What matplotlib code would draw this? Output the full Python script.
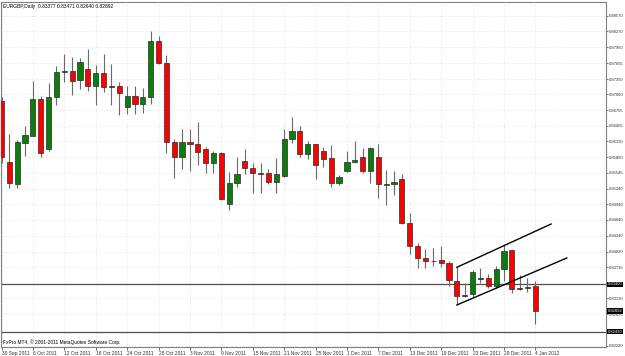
import matplotlib
matplotlib.use("Agg")
import matplotlib.pyplot as plt

# EURGBP daily bars, 30 Sep 2011 .. 4 Jan 2012
opens = [0.86934, 0.85761, 0.85338, 0.86126, 0.86261, 0.86967, 0.86000, 0.87012, 0.87496, 0.87512,
         0.87333, 0.87539, 0.87217, 0.87462, 0.87194, 0.87217, 0.86808, 0.87019, 0.86865, 0.87012,
         0.88089, 0.87666, 0.86140, 0.85857, 0.86134, 0.86107, 0.86000, 0.85730, 0.85923, 0.84947,
         0.85345, 0.85780, 0.85640, 0.85536, 0.85538, 0.85376, 0.85486, 0.86192, 0.86346, 0.85909,
         0.86101, 0.85967, 0.85826, 0.85345, 0.85576, 0.85749, 0.85846, 0.85588, 0.85857, 0.85322,
         0.85326, 0.85428, 0.84587, 0.84145, 0.83902, 0.83850, 0.83870, 0.83806, 0.83471, 0.83183,
         0.83215, 0.83498, 0.83523, 0.83375, 0.83691, 0.84062, 0.83325, 0.83325, 0.83377]
highs = [0.87006, 0.86294, 0.86178, 0.86448, 0.87314, 0.87025, 0.87281, 0.87608, 0.87833, 0.87770,
         0.87750, 0.87935, 0.87621, 0.87839, 0.87641, 0.87294, 0.87217, 0.87217, 0.87185, 0.88270,
         0.88179, 0.87814, 0.86203, 0.86384, 0.86390, 0.86531, 0.86050, 0.85967, 0.85942, 0.85557,
         0.85846, 0.86005, 0.85730, 0.85730, 0.85615, 0.85838, 0.86384, 0.86627, 0.86448, 0.86165,
         0.86111, 0.86050, 0.86082, 0.85499, 0.85967, 0.86159, 0.86019, 0.86040, 0.86101, 0.85601,
         0.85588, 0.85524, 0.84780, 0.84203, 0.84081, 0.84106, 0.84139, 0.83856, 0.83729, 0.83433,
         0.83677, 0.83710, 0.83600, 0.83754, 0.84164, 0.84070, 0.83581, 0.83529, 0.83471]
lows = [0.85736, 0.85255, 0.85255, 0.85871, 0.86255, 0.85857, 0.85973, 0.86852, 0.87300, 0.87038,
        0.87165, 0.87115, 0.86852, 0.87108, 0.86852, 0.86665, 0.86679, 0.86679, 0.86704, 0.86871,
        0.87640, 0.85934, 0.85442, 0.85615, 0.85588, 0.85697, 0.85549, 0.85538, 0.85024, 0.84832,
        0.85280, 0.85530, 0.85153, 0.85153, 0.85326, 0.85153, 0.85461, 0.86126, 0.85846, 0.85819,
        0.85422, 0.85665, 0.85268, 0.85307, 0.85557, 0.85730, 0.85538, 0.85357, 0.85057, 0.84928,
        0.85120, 0.84562, 0.83979, 0.83710, 0.83722, 0.83754, 0.83741, 0.83369, 0.83004, 0.83164,
        0.83164, 0.83421, 0.83337, 0.83337, 0.83471, 0.83241, 0.83292, 0.83260, 0.82640]
closes = [0.85846, 0.85357, 0.86140, 0.86275, 0.86967, 0.85928, 0.87012, 0.87493, 0.87510, 0.87319,
          0.87679, 0.87212, 0.87473, 0.87192, 0.87212, 0.87077, 0.87019, 0.86865, 0.87012, 0.88089,
          0.87654, 0.86140, 0.85846, 0.86134, 0.86096, 0.85948, 0.85730, 0.85923, 0.85043, 0.85345,
          0.85530, 0.85634, 0.85549, 0.85530, 0.85376, 0.85519, 0.86192, 0.86346, 0.85909, 0.86096,
          0.85692, 0.85819, 0.85345, 0.85467, 0.85755, 0.85794, 0.85588, 0.86030, 0.85332, 0.85330,
          0.85370, 0.84587, 0.84145, 0.83902, 0.83850, 0.83846, 0.83806, 0.83485, 0.83183, 0.83202,
          0.83633, 0.83523, 0.83375, 0.83696, 0.84049, 0.83312, 0.83306, 0.83356, 0.82892]

date_labels = ["30 Sep 2011", "6 Oct 2011", "12 Oct 2011", "18 Oct 2011", "24 Oct 2011",
               "28 Oct 2011", "3 Nov 2011", "9 Nov 2011", "15 Nov 2011", "21 Nov 2011",
               "25 Nov 2011", "1 Dec 2011", "7 Dec 2011", "13 Dec 2011", "19 Dec 2011",
               "23 Dec 2011", "29 Dec 2011", "4 Jan 2012"]
price_ticks = [0.88570, 0.88270, 0.87960, 0.87655, 0.87350, 0.87060, 0.86755, 0.86455,
               0.86150, 0.85850, 0.85545, 0.85240, 0.84940, 0.84640, 0.84340, 0.84030,
               0.83735, 0.83130, 0.82825, 0.82220]

# drawn objects: channel lines (bar index, price) and horizontal levels
upper_line = ([58, 70], [0.83729, 0.84562])
lower_line = ([58, 72], [0.83004, 0.83908])
levels = [0.83400, 0.82490]

FONT = "Liberation Sans"
FS = 3.5
FS_Y = 3.0

fig = plt.figure(figsize=(6.25, 3.56), dpi=100)
ax = fig.add_axes([1 / 625, 8.7 / 356, 605 / 625, 345.3 / 356])
ax.set_facecolor("white")

x = list(range(len(opens)))
wick_col = "#6a6a6a"
ax.vlines(x, lows, highs, color=wick_col, linewidth=0.8, zorder=2)

bull = [i for i in x if closes[i] >= opens[i]]
bear = [i for i in x if closes[i] < opens[i]]
ax.bar(bull, [closes[i] - opens[i] for i in bull], bottom=[opens[i] for i in bull],
       width=0.66, color="#0b7d0b", edgecolor="#2a2a2a", linewidth=0.5, zorder=3)
ax.bar(bear, [opens[i] - closes[i] for i in bear], bottom=[closes[i] for i in bear],
       width=0.66, color="#ff0000", edgecolor="#2a2a2a", linewidth=0.5, zorder=3)

ax.plot(*upper_line, color="black", linewidth=1.0, zorder=4)
ax.plot(*lower_line, color="black", linewidth=1.0, zorder=4)
for lv in levels:
    ax.axhline(lv, color="#505050", linewidth=0.9, zorder=1)

ax.set_xlim(-0.064, 77.0)
ax.set_ylim(0.82190, 0.88834)

ax.set_xticks(list(range(0, 69, 4)))
ax.set_xticklabels(date_labels, fontsize=FS, family=FONT, ha="left")
ax.set_yticks(price_ticks)
ax.set_yticklabels([f"{v:.5f}" for v in price_ticks], fontsize=FS_Y, family=FONT)
ax.yaxis.tick_right()
ax.tick_params(axis="y", direction="out", length=1.5, width=0.5, pad=0.4, colors="#303030")
ax.tick_params(axis="x", direction="out", length=1.8, width=0.5, pad=0.6, colors="#303030")
ax.grid(True, linestyle=(0, (1, 3)), color="#c8c8c8", linewidth=0.5, zorder=0)
ax.set_axisbelow(True)
for s in ax.spines.values():
    s.set_color("#808080")
    s.set_linewidth(0.8)

# highlighted price boxes on the right scale
box = dict(facecolor="black", edgecolor="none", pad=0.5)
for v, t in [(levels[0], "0.83400"), (closes[-1], "0.82892"), (levels[1], "0.82490")]:
    ax.text(1.003, v, t, transform=ax.get_yaxis_transform(), fontsize=FS_Y, family=FONT,
            color="white", ha="left", va="center", bbox=box, clip_on=False, zorder=6)

fig.text(3 / 625, 1 - 6.5 / 356, "EURGBP,Daily  0.83377 0.83471 0.82640 0.82892",
         fontsize=FS, family=FONT, color="black", va="center", ha="left")
fig.text(3 / 625, 1 - 342.5 / 356, "FxPro MT4, \u00a9 2001-2011 MetaQuotes Software Corp.",
         fontsize=FS, family=FONT, color="black", va="center", ha="left")

fig.savefig("out.png", dpi=100, facecolor="white")
